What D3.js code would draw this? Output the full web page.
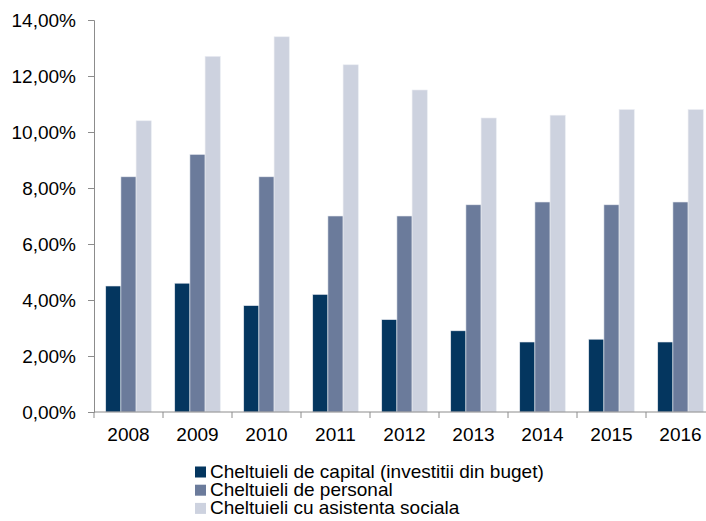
<!DOCTYPE html>
<html>
<head>
<meta charset="utf-8">
<script src="https://cdn.jsdelivr.net/npm/d3@7"></script>
<style>
  body { margin: 0; background: #fff; }
  svg { display: block; font-family: "Liberation Sans", Arial, sans-serif; }
</style>
</head>
<body>
<div id="chart"></div>
<script>
// date
const years = ["2008", "2009", "2010", "2011", "2012", "2013", "2014", "2015", "2016"];
const seriesNames = [
    "Cheltuieli de capital (investitii din buget)",
    "Cheltuieli de personal",
    "Cheltuieli cu asistenta sociala"
];
const capital = [4.5, 4.6, 3.8, 4.2, 3.3, 2.9, 2.5, 2.6, 2.5];
const personal = [8.4, 9.2, 8.4, 7.0, 7.0, 7.4, 7.5, 7.4, 7.5];
const asistenta = [10.4, 12.7, 13.4, 12.4, 11.5, 10.5, 10.6, 10.8, 10.8];
const yTicks = [0, 2, 4, 6, 8, 10, 12, 14];

const colors = ["#04365f", "#6b7b9b", "#cdd2df"];

const width = 706;
const height = 521;

// legam datele pe ani
const allSeries = [capital, personal, asistenta];
const data = years.map((y, i) => ({
    year: y,
    values: allSeries.map((s, k) => ({ key: k, value: s[i] }))
}));

const svg = d3.select("#chart")
    .append("svg")
    .attr("width", width)
    .attr("height", height);

const x0 = d3.scaleBand()
    .domain(years)
    .range([94, 715])
    .paddingInner(0.34)
    .paddingOuter(0.17);

const x1 = d3.scaleBand()
    .domain([0, 1, 2])
    .range([0, x0.bandwidth()]);

const y = d3.scaleLinear()
    .domain([0, 14])
    .range([412, 20]);

// bare
const groups = svg.selectAll("g.year")
    .data(data)
    .enter()
    .append("g")
    .attr("class", "year")
    .attr("transform", d => `translate(${x0(d.year)},0)`);

groups.selectAll("rect")
    .data(d => d.values)
    .enter()
    .append("rect")
    .attr("x", d => x1(d.key))
    .attr("y", d => y(d.value))
    .attr("width", x1.bandwidth())
    .attr("height", d => y(0) - y(d.value))
    .attr("fill", d => colors[d.key])
    .attr("stroke", "#e9ecf2")
    .attr("stroke-width", 0.6);

// axa Y
const yAxis = svg.append("g")
    .attr("transform", "translate(94,0)")
    .call(d3.axisLeft(y)
        .tickValues(yTicks)
        .tickSize(6)
        .tickPadding(12)
        .tickFormat(d => d.toFixed(2).replace(".", ",") + "%"));

yAxis.select(".domain").attr("stroke", "#8c8c8c");
yAxis.selectAll(".tick line").attr("stroke", "#8c8c8c");
yAxis.selectAll(".tick text")
    .attr("fill", "#000")
    .style("font-size", "19px")
    .style("font-family", "'Liberation Sans', Arial, sans-serif");

// axa X
const xAxisG = svg.append("g")
    .attr("transform", "translate(0,412)");

xAxisG.append("line")
    .attr("x1", 94)
    .attr("x2", 715)
    .attr("stroke", "#8c8c8c");

xAxisG.selectAll("line.tick")
    .data(years.concat(["end"]))
    .enter()
    .append("line")
    .attr("class", "tick")
    .attr("x1", (d, i) => x0.range()[0] + i * x0.step())
    .attr("x2", (d, i) => x0.range()[0] + i * x0.step())
    .attr("y1", 0)
    .attr("y2", 6)
    .attr("stroke", "#8c8c8c");

xAxisG.selectAll("text")
    .data(years)
    .enter()
    .append("text")
    .attr("x", d => x0(d) + x0.bandwidth() / 2)
    .attr("y", 29)
    .attr("text-anchor", "middle")
    .attr("fill", "#000")
    .style("font-size", "19px")
    .text(d => d);

// legenda
const legend = svg.append("g")
    .attr("transform", "translate(195,477.5)");

const items = legend.selectAll("g")
    .data(seriesNames)
    .enter()
    .append("g")
    .attr("transform", (d, i) => `translate(0,${i * 18.2})`);

items.append("rect")
    .attr("x", 0)
    .attr("y", -11)
    .attr("width", 11)
    .attr("height", 11)
    .attr("fill", (d, i) => colors[i]);

items.append("text")
    .attr("x", 15)
    .attr("y", 0)
    .attr("fill", "#000")
    .style("font-size", "19px")
    .text(d => d);
</script>
</body>
</html>
